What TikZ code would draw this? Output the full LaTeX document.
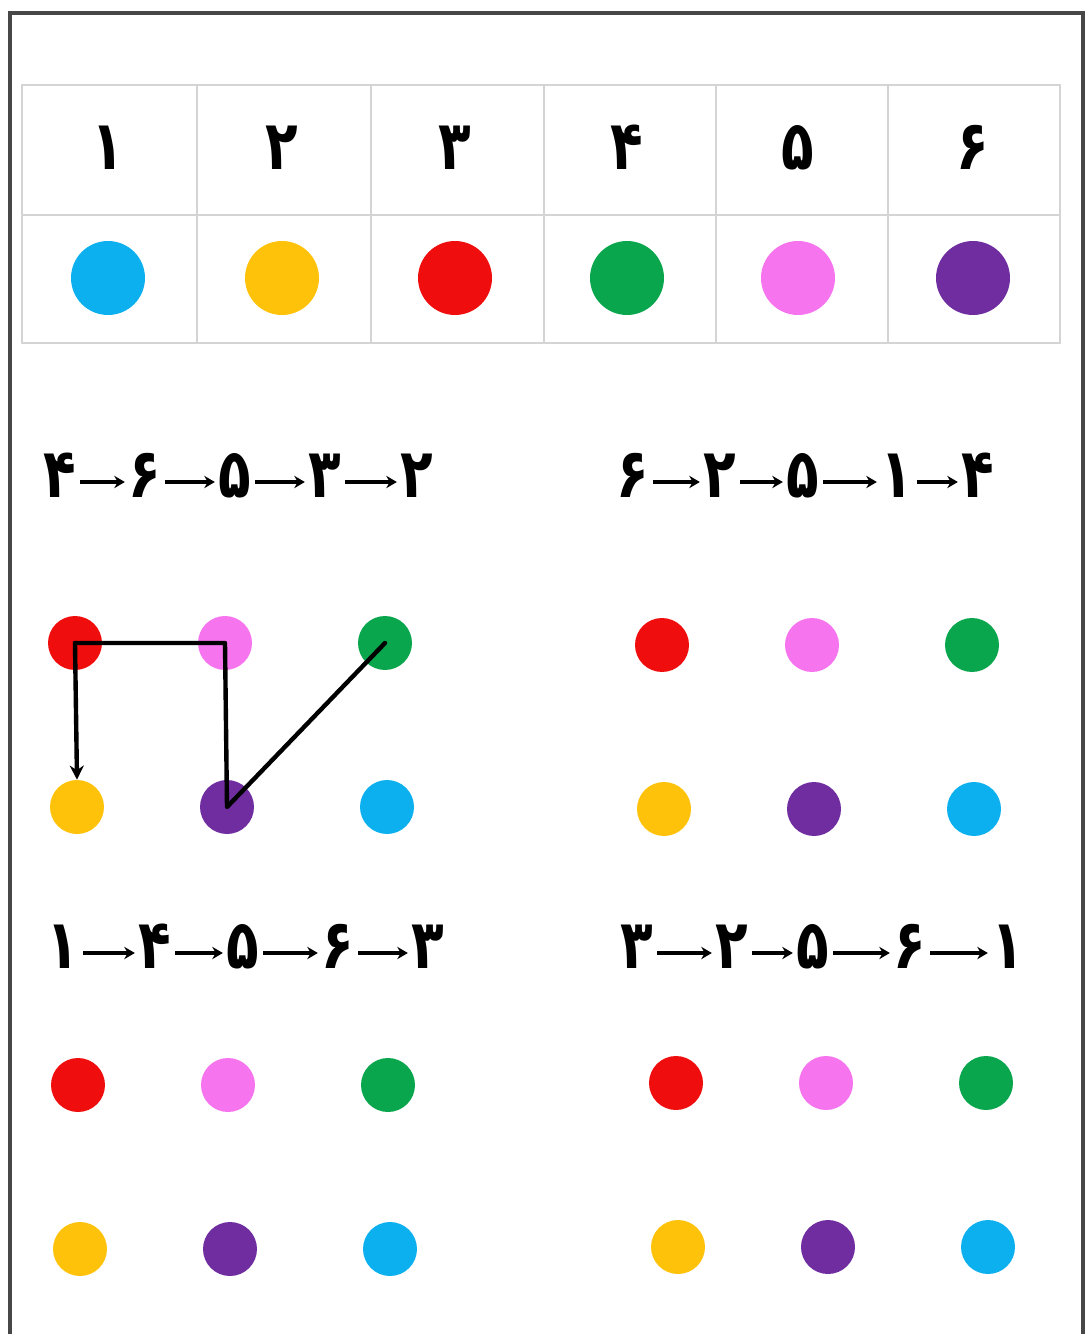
\documentclass[tikz,border=0pt]{standalone}
\usepackage{fontspec}
\usepackage{tikz}
\usetikzlibrary{arrows.meta,calc}
\newfontfamily\fanum[Script=Arabic,FakeStretch=0.78]{DejaVu Sans}
\definecolor{Frame}{HTML}{474747}
\definecolor{Grid}{HTML}{D4D4D4}
\definecolor{Sky}{HTML}{0CB0EE}
\definecolor{Gold}{HTML}{FFC20A}
\definecolor{Red}{HTML}{F00D0D}
\definecolor{Green}{HTML}{0AA64E}
\definecolor{Pink}{HTML}{F674EE}
\definecolor{Purple}{HTML}{6F2DA0}

\begin{document}
\begin{tikzpicture}[x=0.02cm,y=-0.02cm,
    num/.style={font=\fanum\bfseries\fontsize{39}{40}\selectfont,inner sep=2pt,anchor=base},
    dot/.style={circle,minimum size=1.08cm,inner sep=0pt},
    big/.style={circle,minimum size=1.48cm,inner sep=0pt},
    seq/.style={-{Stealth[length=6pt,width=7pt]},line width=2.2pt},
    route/.style={line width=2.5pt,line cap=round,line join=round},
    >=Stealth]
  \useasboundingbox (0,0) rectangle (1085,1334);
  % frame and table
  \draw[Frame,line width=2.4pt] (10,1345) -- (10,13) -- (1083,13) -- (1083,1345);
  \draw[Grid,line width=1.6pt] (22,85) rectangle (1060,343);
  \draw[Grid,line width=1.6pt] (22,215) -- (1060,215);
  \foreach \x in {197,371,544,716,888}
    \draw[Grid,line width=1.6pt] (\x,85) -- (\x,343);

  \node[num] (h1) at (108,170) {۱};
  \node[num] (h2) at (282,170) {۲};
  \node[num] (h3) at (455,170) {۳};
  \node[num] (h4) at (627,170) {۴};
  \node[num] (h5) at (798,170) {۵};
  \node[num] (h6) at (973,170) {۶};
  \node[big,fill=Sky]    (k1) at (108,278) {};
  \node[big,fill=Gold]   (k2) at (282,278) {};
  \node[big,fill=Red]    (k3) at (455,278) {};
  \node[big,fill=Green]  (k4) at (627,278) {};
  \node[big,fill=Pink]   (k5) at (798,278) {};
  \node[big,fill=Purple] (k6) at (973,278) {};

  % sequences
  \node[num] (p1) at (60,497) {۴};
  \node[num] (p2) at (145,497) {۶};
  \node[num] (p3) at (235,497) {۵};
  \node[num] (p4) at (325,497) {۳};
  \node[num] (p5) at (417,497) {۲};

  \node[num] (q1) at (633,497) {۶};
  \node[num] (q2) at (720,497) {۲};
  \node[num] (q3) at (803,497) {۵};
  \node[num] (q4) at (897,497) {۱};
  \node[num] (q5) at (978,497) {۴};

  \node[num] (u1) at (63,968) {۱};
  \node[num] (u2) at (155,968) {۴};
  \node[num] (u3) at (243,968) {۵};
  \node[num] (u4) at (338,968) {۶};
  \node[num] (u5) at (428,968) {۳};

  \node[num] (v1) at (637,968) {۳};
  \node[num] (v2) at (732,968) {۲};
  \node[num] (v3) at (813,968) {۵};
  \node[num] (v4) at (910,968) {۶};
  \node[num] (v5) at (1008,968) {۱};

  \foreach \s in {p,q,u,v}
    \foreach \i/\j in {1/2,2/3,3/4,4/5}
      \draw[seq] ($(\s\i.base east)+(0,-15)$) -- ($(\s\j.base west)+(0,-15)$);

  % dot grids
  \foreach \g/\x/\y in {tl/75/643,tr/662/645,bl/78/1085,br/676/1083}{
    \node[dot,fill=Red]    (\g-r) at (\x,\y) {};
    \node[dot,fill=Pink]   (\g-k) at (\x+150,\y) {};
    \node[dot,fill=Green]  (\g-g) at (\x+310,\y) {};
    \node[dot,fill=Gold]   (\g-y) at (\x+2,\y+164) {};
    \node[dot,fill=Purple] (\g-p) at (\x+152,\y+164) {};
    \node[dot,fill=Sky]    (\g-b) at (\x+312,\y+164) {};
  }

  \draw[route] (tl-g.center) -- (tl-p.center) -- (tl-k.center) -- (tl-r.center);
  \draw[route,-{Stealth[length=8pt,width=8pt]}] (tl-r.center) -- (tl-y.north);
\end{tikzpicture}
\end{document}
